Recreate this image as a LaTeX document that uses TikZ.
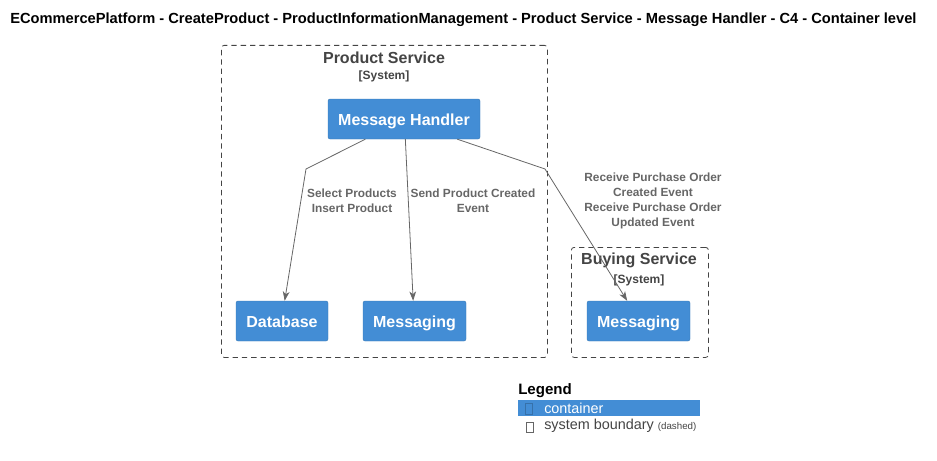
\documentclass[tikz,border=0pt]{standalone}
\usepackage{fontspec}
\setmainfont{Liberation Sans}
\usetikzlibrary{positioning,calc,arrows.meta}
\definecolor{cblue}{HTML}{438DD5}
\definecolor{lgray}{HTML}{666666}
\definecolor{bgray}{HTML}{444444}
\tikzset{cbox/.style={rectangle, rounded corners=1.5pt, fill=cblue, draw=cblue!85!black, line width=0.3pt, text=white, font=\bfseries\fontsize{12}{14}\selectfont, minimum height=30pt, inner sep=0pt, text height=10pt, text depth=1pt}}
\tikzset{bnd/.style={draw=bgray, dashed, dash pattern=on 4pt off 3pt, rounded corners=2pt, line width=0.6pt, inner sep=0pt}}
\tikzset{btitle/.style={text=bgray, font=\bfseries\fontsize{12}{14}\selectfont, inner sep=0pt}}
\tikzset{bsub/.style={text=bgray, font=\bfseries\fontsize{9}{10}\selectfont, inner sep=0pt}}
\tikzset{elbl/.style={text=lgray, font=\bfseries\fontsize{8.9}{11.3}\selectfont, align=center, inner sep=0pt}}
\tikzset{arr1/.style={draw=lgray, line width=0.6pt, -{Stealth[length=7pt,width=5pt,inset=2pt]}}}
\begin{document}
\begin{tikzpicture}[x=0.75pt,y=-0.75pt]
\useasboundingbox (0,0) rectangle (937,460);
\node[anchor=west, font=\bfseries\fontsize{11}{13}\selectfont, inner sep=0pt] (T) at (10,20) {ECommercePlatform - CreateProduct - ProductInformationManagement - Product Service - Message Handler - C4 - Container level};
%
% system boundaries
\node[bnd, anchor=north west, minimum width=244.5pt, minimum height=234pt] (PS) at (221,45) {};
\node[btitle] (PSt) at (384,58) {Product Service};
\node[bsub, below=5pt of PSt] (PSs) {[System]};
\node[bnd, anchor=north west, minimum width=102.75pt, minimum height=82.5pt] (BS) at (571,247) {};
\node[btitle] (BSt) at (639,260) {Buying Service};
\node[bsub, below=5pt of BSt] (BSs) {[System]};
%
% containers
\node[cbox, minimum width=114pt] (MH) at (404,119) {Message Handler};
\node[cbox, minimum width=69pt] (DB) at (282,321) {Database};
\node[cbox, minimum width=77.25pt] (MQ) at (414.5,321) {Messaging};
\node[cbox, minimum width=77.25pt] (BMQ) at (638.5,321) {Messaging};
%
% relations
\coordinate (A) at (306,169);
\coordinate (B) at (545,169);
\draw[arr1] ([xshift=-29pt]MH.south) -- (A) -- ([xshift=2pt]DB.north);
\node[elbl] (L1) at (352,201) {Select Products\\Insert Product};
\draw[arr1] ([xshift=1pt]MH.south) -- ([xshift=-1pt]MQ.north);
\node[elbl] (L2) at (473,201) {Send Product Created\\Event};
\draw[arr1] ([xshift=40pt]MH.south) -- (B) -- ([xshift=-8.5pt]BMQ.north);
\node[elbl] (L3) at (653,201) {Receive Purchase Order\\Created Event\\Receive Purchase Order\\Updated Event};
%
% legend
\node[anchor=west, font=\bfseries\fontsize{11.3}{13}\selectfont, inner sep=0pt] (LG) at (518,391) {Legend};
\node[anchor=north west, fill=cblue, minimum width=136.5pt, minimum height=12pt, inner sep=0pt] (LC) at (518,400) {};
\draw[cblue!80!black, line width=0.4pt] (525,403) rectangle (532,414);
\node[anchor=west, text=white, font=\fontsize{10.8}{12}\selectfont, inner sep=0pt] (LCt) at (544,408.5) {container};
\draw[lgray, line width=0.4pt] (526,422) rectangle (533,432);
\node[anchor=west, text=bgray, font=\fontsize{10.8}{12}\selectfont, inner sep=0pt] (LBt) at (544,426) {system boundary {\fontsize{7.3}{8}\selectfont(dashed)}};
\end{tikzpicture}
\end{document}
